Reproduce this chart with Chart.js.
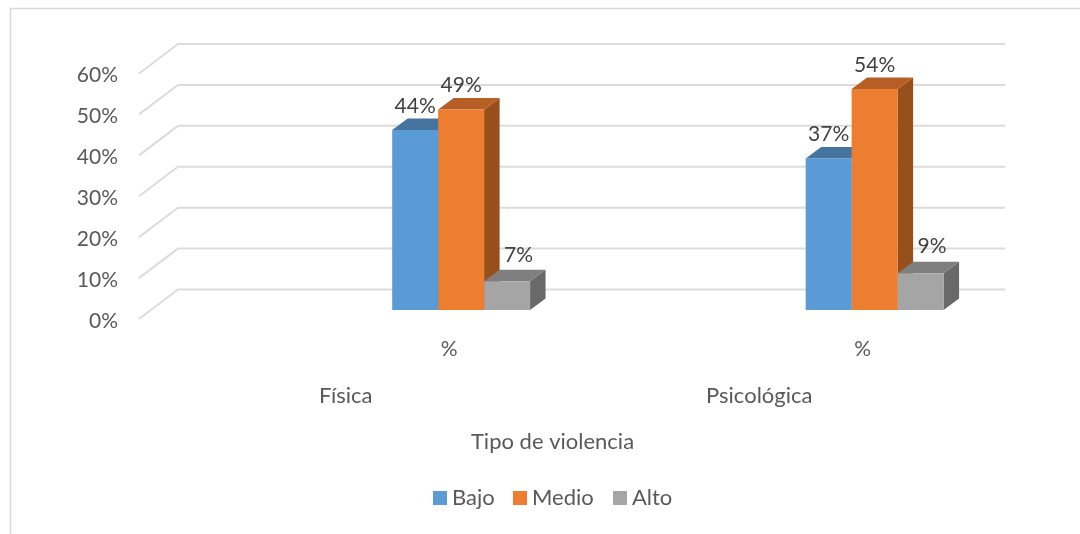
<!DOCTYPE html>
<html lang="es">
<head>
    <meta charset="UTF-8">
    <title>Tipo de violencia</title>
    <script src="https://cdn.jsdelivr.net/npm/chart.js"></script>
    <style>
        body { margin: 0; background: #fff; }
        #chart { display: block; }
    </style>
</head>
<body>
    <canvas id="chart" width="1080" height="534"></canvas>
    <script>
        // each group has a blank leaf and a "%" leaf, like the original two level axis
        const categories = ['', '%', '', '%'];
        const groups = ['Física', 'Psicológica'];
        const seriesNames = ['Bajo', 'Medio', 'Alto'];
        const bajo = [null, 44, null, 37];
        const medio = [null, 49, null, 54];
        const alto = [null, 7, null, 9];
        const yTicks = [0, 10, 20, 30, 40, 50, 60];
        const axisTitle = 'Tipo de violencia';

        const frontColors = ['#5B9BD5', '#ED7D31', '#A5A5A5'];
        const topColors = ['#4674A0', '#B65F24', '#7F7F7F'];
        const sideColors = ['#3C6690', '#974F1C', '#696969'];

        const fontName = 'Lato, sans-serif';
        const numberSize = 21;
        const wordSize = 22;
        const textColor = '#595959';
        const labelColor = '#404040';
        const gridColor = '#DCDCDC';

        // 3D look: bars sit a bit behind the front of the floor
        const frontShift = { x: -12, y: 9 };
        const backShift = { x: 27, y: -20.5 };
        const barDepth = { x: 15.5, y: -11.5 };
        const gridRight = 1005;

        // how far each series' data label sits from the top of its bar
        const labelLift = [24, 24, 26.5];
        const labelSide = [0, 0, 11.5];

        const threeD = {
            id: 'threeD',
            beforeDraw(chart) {
                const c = chart.ctx;
                const y = chart.scales.y;
                const x0 = chart.chartArea.left;
                // outer frame, only left and top show in the crop
                c.save();
                c.strokeStyle = '#D9D9D9';
                c.lineWidth = 1.5;
                c.beginPath();
                c.moveTo(10.5, 534);
                c.lineTo(10.5, 8.5);
                c.lineTo(1080, 8.5);
                c.stroke();
                // floor and wall lines
                c.strokeStyle = gridColor;
                c.lineWidth = 2;
                y.ticks.forEach(t => {
                    const py = y.getPixelForValue(t.value);
                    c.beginPath();
                    c.moveTo(x0 + frontShift.x, py + frontShift.y);
                    c.lineTo(x0 + backShift.x, py + backShift.y);
                    c.lineTo(gridRight, py + backShift.y);
                    c.stroke();
                });
                c.restore();
            },
            beforeDatasetsDraw(chart) {
                const c = chart.ctx;
                c.save();
                chart.data.datasets.forEach((ds, i) => {
                    chart.getDatasetMeta(i).data.forEach((bar, j) => {
                        if (ds.data[j] === null) return;
                        const l = bar.x - bar.width / 2;
                        const r = bar.x + bar.width / 2;
                        const dx = barDepth.x;
                        const dy = barDepth.y;
                        c.fillStyle = sideColors[i];
                        c.beginPath();
                        c.moveTo(r, bar.y);
                        c.lineTo(r + dx, bar.y + dy);
                        c.lineTo(r + dx, bar.base + dy);
                        c.lineTo(r, bar.base);
                        c.fill();
                        c.fillStyle = topColors[i];
                        c.beginPath();
                        c.moveTo(l, bar.y);
                        c.lineTo(l + dx, bar.y + dy);
                        c.lineTo(r + dx, bar.y + dy);
                        c.lineTo(r, bar.y);
                        c.fill();
                    });
                });
                c.restore();
            },
            afterDatasetsDraw(chart) {
                const c = chart.ctx;
                const xs = chart.scales.x;
                c.save();
                c.font = numberSize + 'px ' + fontName;
                c.textBaseline = 'middle';
                c.textAlign = 'center';

                // data labels, the gray ones sit on the right of the bar
                chart.data.datasets.forEach((ds, i) => {
                    chart.getDatasetMeta(i).data.forEach((bar, j) => {
                        if (ds.data[j] === null) return;
                        c.fillStyle = labelColor;
                        c.fillText(ds.data[j] + '%', bar.x + labelSide[i], bar.y - labelLift[i]);
                    });
                });

                // parent categories and axis title
                c.font = wordSize + 'px ' + fontName;
                c.fillStyle = textColor;
                groups.forEach((g, i) => {
                    const px = xs.getPixelForValue(i * 2 + 0.5) + frontShift.x;
                    c.fillText(g, px, 396);
                });
                const mid = (xs.left + xs.right) / 2 + frontShift.x;
                c.fillText(axisTitle, mid, 442);

                // legend
                const legendX = [433, 513, 613];
                chart.data.datasets.forEach((ds, i) => {
                    c.fillStyle = frontColors[i];
                    c.fillRect(legendX[i], 491, 14, 14);
                    c.fillStyle = textColor;
                    c.textAlign = 'left';
                    c.fillText(ds.label, legendX[i] + 19, 498);
                });
                c.restore();
            }
        };

        const datasets = [bajo, medio, alto].map((values, i) => ({
            label: seriesNames[i],
            data: values,
            backgroundColor: frontColors[i],
            borderWidth: 0,
            categoryPercentage: 0.667,
            barPercentage: 1
        }));

        new Chart(document.getElementById('chart'), {
            type: 'bar',
            data: { labels: categories, datasets: datasets },
            plugins: [threeD],
            options: {
                responsive: false,
                animation: false,
                layout: { padding: { top: 64.5, right: 102, bottom: 0, left: 0 } },
                plugins: { legend: { display: false }, tooltip: { enabled: false } },
                scales: {
                    x: {
                        grid: { display: false, drawTicks: false },
                        border: { display: false },
                        afterFit(s) { s.height = 224; },
                        ticks: {
                            autoSkip: false,
                            maxRotation: 0,
                            labelOffset: frontShift.x,
                            padding: 27,
                            color: textColor,
                            font: { family: fontName, size: numberSize }
                        }
                    },
                    y: {
                        min: 0,
                        max: 60,
                        grid: { display: false, drawTicks: false },
                        border: { display: false },
                        afterBuildTicks(s) { s.ticks = yTicks.map(v => ({ value: v })); },
                        afterFit(s) { s.width = 151; },
                        ticks: {
                            padding: 33,
                            labelOffset: 11,
                            color: textColor,
                            font: { family: fontName, size: numberSize },
                            callback: v => v + '%'
                        }
                    }
                }
            }
        });
    </script>
</body>
</html>
